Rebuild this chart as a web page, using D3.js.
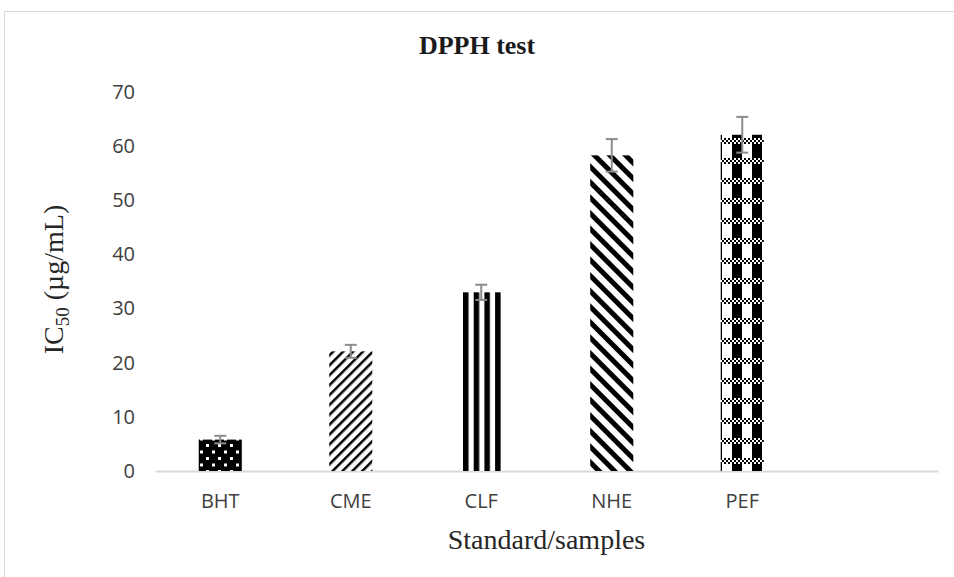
<!DOCTYPE html>
<html>
<head>
  <meta charset="utf-8"><script src="https://d3js.org/d3.v7.min.js"></script>
  <style>body { margin: 0; background: white; }</style>
</head>
<body onload="execute()">
  <svg id="mychart" width="954" height="577" style="background: white"></svg>
<script>
  // values
  const categories = ["BHT", "CME", "CLF", "NHE", "PEF", ""]
  const values = [5.8, 22.1, 33.0, 58.3, 62.1]
  const errors = [0.7, 1.2, 1.4, 3.0, 3.3]
  const patterns = ["dots", "updiag", "vstripe", "downdiag", "plaid"]
  const yTicks = [0, 10, 20, 30, 40, 50, 60, 70]

  function execute() {
    const width = 954, height = 577
    const margin = {top: 92, right: 16, bottom: 106, left: 155}

    const svg = d3.select("#mychart")

    // fill patterns like the Excel ones
    const defs = svg.append("defs")

    let p = defs.append("pattern").attr("id", "dots").attr("patternUnits", "userSpaceOnUse")
      .attr("width", 12).attr("height", 13)
    p.append("rect").attr("width", 12).attr("height", 13).attr("fill", "black")
    p.append("rect").attr("x", 2).attr("y", 2).attr("width", 3).attr("height", 3).attr("fill", "white")
    p.append("rect").attr("x", 8).attr("y", 8.5).attr("width", 3).attr("height", 3).attr("fill", "white")

    p = defs.append("pattern").attr("id", "updiag").attr("patternUnits", "userSpaceOnUse")
      .attr("width", 7).attr("height", 7).attr("patternTransform", "rotate(45)")
    p.append("rect").attr("width", 7).attr("height", 7).attr("fill", "white")
    p.append("rect").attr("x", 0).attr("y", 0).attr("width", 2.5).attr("height", 7).attr("fill", "black")

    p = defs.append("pattern").attr("id", "vstripe").attr("patternUnits", "userSpaceOnUse")
      .attr("width", 10.7).attr("height", 10).attr("x", 463)
    p.append("rect").attr("width", 10.7).attr("height", 10).attr("fill", "white")
    p.append("rect").attr("x", 0).attr("width", 5.5).attr("height", 10).attr("fill", "black")

    p = defs.append("pattern").attr("id", "downdiag").attr("patternUnits", "userSpaceOnUse")
      .attr("width", 11).attr("height", 11).attr("patternTransform", "rotate(-45)")
    p.append("rect").attr("width", 11).attr("height", 11).attr("fill", "white")
    p.append("rect").attr("x", 0).attr("width", 5).attr("height", 11).attr("fill", "black")

    p = defs.append("pattern").attr("id", "plaid").attr("patternUnits", "userSpaceOnUse")
      .attr("width", 20).attr("height", 20).attr("x", 722).attr("y", 135)
    p.append("rect").attr("width", 20).attr("height", 20).attr("fill", "white")
    p.append("rect").attr("x", 10).attr("width", 10).attr("height", 20).attr("fill", "black")
    for (let i = 0; i < 10; i++) {
      for (let j = 0; j < 3; j++) {
        p.append("rect").attr("x", i * 2).attr("y", 3 + j * 2).attr("width", 2).attr("height", 2)
          .attr("fill", (i + j) % 2 ? "black" : "white")
      }
    }

    // outer chart frame
    svg.append("rect")
      .attr("x", 4.5).attr("y", 11.5).attr("width", 980).attr("height", 600)
      .attr("fill", "none").attr("stroke", "#d9d9d9")

    const x = d3.scaleBand()
      .domain(categories.map((d, i) => i))
      .range([margin.left, width - margin.right])

    const y = d3.scaleLinear()
      .domain([0, 70])
      .range([height - margin.bottom, margin.top])

    const barW = x.bandwidth() * 0.33

    // y axis labels only
    svg.append("g")
      .attr("transform", `translate(${margin.left - 20},0)`)
      .call(d3.axisLeft(y).tickValues(yTicks).tickSize(0).tickPadding(0))
      .call(g => g.select(".domain").remove())
      .call(g => g.selectAll("text")
        .attr("font-family", "Open Sans, sans-serif").attr("font-size", 20).attr("fill", "#404040"))

    // x axis
    svg.append("g")
      .attr("transform", `translate(0,${y(0)})`)
      .call(d3.axisBottom(x).tickSize(0).tickPadding(23).tickFormat(i => categories[i]))
      .call(g => g.select(".domain").attr("stroke", "#d9d9d9").attr("stroke-width", 2))
      .call(g => g.selectAll("text")
        .attr("font-family", "Open Sans, sans-serif").attr("font-size", 20).attr("fill", "#404040"))

    // bars
    svg.append("g").selectAll("rect")
      .data(values)
      .join("rect")
      .attr("x", (d, i) => x(i) + (x.bandwidth() - barW) / 2)
      .attr("y", d => y(d))
      .attr("width", barW)
      .attr("height", d => y(0) - y(d))
      .attr("fill", (d, i) => `url(#${patterns[i]})`)

    // error bars
    const eb = svg.append("g").attr("stroke", "#8c8c8c").attr("stroke-width", 2)
    values.forEach((v, i) => {
      const cx = x(i) + x.bandwidth() / 2
      eb.append("line").attr("x1", cx).attr("x2", cx).attr("y1", y(v - errors[i])).attr("y2", y(v + errors[i]))
      eb.append("line").attr("x1", cx - 6).attr("x2", cx + 6).attr("y1", y(v + errors[i])).attr("y2", y(v + errors[i]))
      eb.append("line").attr("x1", cx - 6).attr("x2", cx + 6).attr("y1", y(v - errors[i])).attr("y2", y(v - errors[i]))
    })

    // titles
    svg.append("text")
      .attr("x", 477).attr("y", 54)
      .attr("text-anchor", "middle")
      .attr("font-family", "Liberation Serif, serif").attr("font-weight", "bold").attr("font-size", 26)
      .attr("fill", "#1a1a1a")
      .text("DPPH test")

    svg.append("text")
      .attr("x", (margin.left + width - margin.right) / 2).attr("y", 549)
      .attr("text-anchor", "middle")
      .attr("font-family", "Liberation Serif, serif").attr("font-size", 28).attr("fill", "#262626")
      .text("Standard/samples")

    const yt = svg.append("text")
      .attr("transform", `translate(63,${(y(0) + y(70)) / 2 - 2}) rotate(-90)`)
      .attr("text-anchor", "middle")
      .attr("font-family", "Liberation Serif, serif").attr("font-size", 28).attr("fill", "#262626")
    yt.append("tspan").text("IC")
    yt.append("tspan").attr("font-size", 19).attr("dy", 6).text("50")
    yt.append("tspan").attr("dy", -6).text(" (µg/mL)")
  }
</script>
</body>
</html>
